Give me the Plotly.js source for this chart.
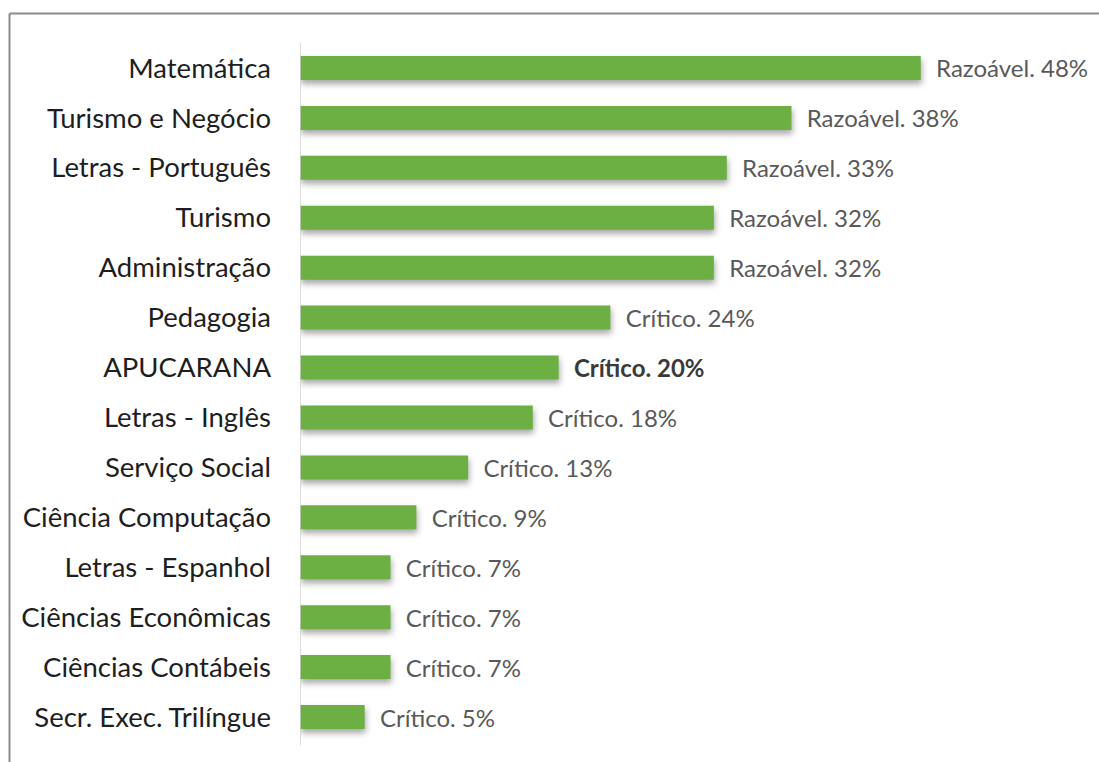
<!DOCTYPE html>
<html>
<head>
<meta charset="utf-8">
<script src="https://cdn.plot.ly/plotly-3.0.1.min.js"></script>
<style>
html,body{margin:0;padding:0;background:#fff;}
#chart{width:1099px;height:762px;}
#chart .bars path{filter: drop-shadow(1px 4px 3px rgba(0,0,0,0.35));}
</style>
</head>
<body>
<div id="chart"></div>
<script>
// Data (top to bottom as in the picture)
const courses = ["Matemática","Turismo e Negócio","Letras - Português","Turismo","Administração","Pedagogia","APUCARANA","Letras - Inglês","Serviço Social","Ciência Computação","Letras - Espanhol","Ciências Econômicas","Ciências Contábeis","Secr. Exec. Trilíngue"];
const values = [48,38,33,32,32,24,20,18,13,9,7,7,7,5];
const statuses = ["Razoável","Razoável","Razoável","Razoável","Razoável","Crítico","Crítico","Crítico","Crítico","Crítico","Crítico","Crítico","Crítico","Crítico"];
const highlight = "APUCARANA";

const labels = courses.map((c,i)=>{
  const t = statuses[i] + ". " + values[i] + "%";
  return "\u00a0\u00a0" + (c===highlight ? "<b>"+t+"</b>" : t);
});

const trace = {
  type:"bar",
  orientation:"h",
  y: courses,
  x: values,
  text: labels,
  textposition:"outside",
  constraintext:"none",
  cliponaxis:false,
  textfont:{family:"Lato, 'Open Sans', sans-serif", size:24, color:courses.map(c=>c===highlight?"#3a3a3a":"#595959")},
  marker:{color:"#6cb044", line:{width:0}},
  width:0.48,
  hoverinfo:"skip"
};

const L=300, W=776, T=43, H=699;
const layout = {
  width:1099, height:762,
  margin:{l:L, r:1099-L-W, t:T, b:762-T-H, pad:0},
  paper_bgcolor:"#fff", plot_bgcolor:"#fff",
  showlegend:false,
  font:{family:"Lato, 'Open Sans', sans-serif"},
  xaxis:{range:[0,60], visible:false, fixedrange:true},
  yaxis:{
    type:"category", autorange:"reversed",
    showgrid:false, zeroline:false,
    showline:false, ticks:"",
    ticklabelstandoff:28,
    tickfont:{family:"Lato, 'Open Sans', sans-serif", size:27.5, color:"#1e1e1e"},
    fixedrange:true
  },
  shapes:[
    // vertical axis line at x=0
    {type:"line", xref:"x", yref:"paper", x0:0, x1:0, y0:-0.005, y1:1.0, line:{color:"#d0d0d0", width:1.5}},
    // outer frame (top + left)
    {type:"line", xref:"paper", yref:"paper", x0:(9.5-L)/W, x1:(1110-L)/W, y0:1+(T-13.5)/H, y1:1+(T-13.5)/H, line:{color:"#8c8c8c", width:2}},
    {type:"line", xref:"paper", yref:"paper", x0:(9.5-L)/W, x1:(9.5-L)/W, y0:1+(T-13.5)/H, y1:-(770-T-H)/H, line:{color:"#8c8c8c", width:2}}
  ]
};

Plotly.newPlot("chart",[trace],layout,{displayModeBar:false, staticPlot:true});
</script>
</body>
</html>
